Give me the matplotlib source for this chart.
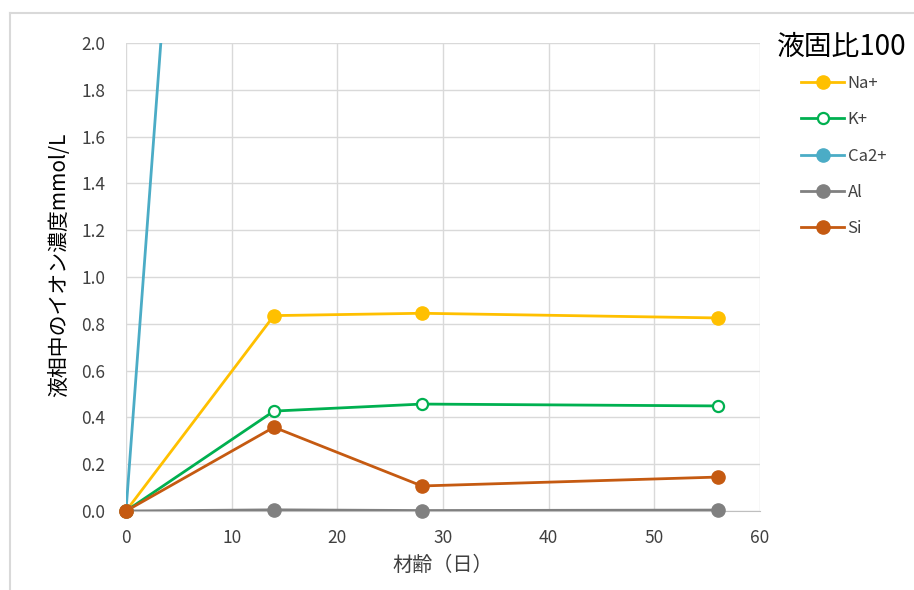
import matplotlib
matplotlib.use("Agg")
import matplotlib.pyplot as plt
from matplotlib.lines import Line2D

plt.rcParams['font.family'] = ['Noto Sans CJK JP', 'DejaVu Sans']

days = [0, 14, 28, 56]
na = [0.0, 0.835, 0.845, 0.825]
k = [0.0, 0.427, 0.457, 0.449]
ca = [0.0, 8.5, 9.3, 9.8]
al = [0.0, 0.005, 0.002, 0.004]
si = [0.0, 0.358, 0.107, 0.145]
series_names = ["Na+", "K+", "Ca2+", "Al", "Si"]
colors = ["#FFC000", "#00B050", "#4BACC6", "#808080", "#C55A11"]
legend_title = "液固比100"
xlabel = "材齢（日）"
ylabel = "液相中のイオン濃度mmol/L"

W, H = 914, 590
fig = plt.figure(figsize=(W / 100, H / 100), dpi=100)
ax = fig.add_axes([126 / W, 1 - 511 / H, (760 - 126) / W, (511 - 43) / H])

data = [na, k, ca, al, si]


def style(name, c):
    hollow = name == "K+"
    return dict(color=c, lw=2.0, marker="o", markersize=8 if hollow else 9.5,
                markerfacecolor="white" if hollow else c, markeredgecolor=c,
                markeredgewidth=1.6 if hollow else 1.0)


for name, vals, c in zip(series_names, data, colors):
    st = style(name, c)
    ax.plot(days, vals, color=c, lw=st["lw"], zorder=3, clip_on=True)
    ax.plot(days, vals, linestyle="none", marker="o", markersize=st["markersize"],
            markerfacecolor=st["markerfacecolor"], markeredgecolor=c,
            markeredgewidth=st["markeredgewidth"], zorder=4,
            clip_on=(name == "Ca2+"))

ax.set_xlim(0, 60)
ax.set_ylim(0, 2.0)
ax.set_xticks(range(0, 61, 10))
ax.set_yticks([i / 10 for i in range(0, 21, 2)])
ax.set_yticklabels([f"{i / 10:.1f}" for i in range(0, 21, 2)])
ax.grid(True, color="#d9d9d9", lw=1.0)
ax.set_axisbelow(True)
for s in ["top", "right", "left"]:
    ax.spines[s].set_visible(False)
ax.spines["bottom"].set_color("#bfbfbf")
ax.tick_params(length=0, labelsize=12.5, labelcolor="#404040")
ax.tick_params(axis="y", pad=15)
ax.tick_params(axis="x", pad=13)
ax.set_xlabel(xlabel, fontsize=14.5, color="#404040", labelpad=6)
ax.set_ylabel(ylabel, fontsize=15, color="#000000", labelpad=6)
ax.yaxis.set_label_coords(-0.088, 0.526)

# legend title and entries
fig.text(777 / W, 1 - 47 / H, legend_title, fontsize=20, va="center", ha="left", color="#000000")
handles = [Line2D([0], [0], **style(n, c)) for n, c in zip(series_names, colors)]
leg = fig.legend(handles, series_names, loc="upper left", bbox_to_anchor=(786 / W, 1 - 60 / H),
                 frameon=False, fontsize=12,
                 handlelength=2.6, labelspacing=1.16, handletextpad=0.2)
for t in leg.get_texts():
    t.set_color("#404040")

# outer chart border (left and top)
fig.add_artist(Line2D([10 / W, 10 / W], [0, 1 - 13 / H], color="#d9d9d9", lw=1.5, transform=fig.transFigure))
fig.add_artist(Line2D([10 / W, 1], [1 - 13 / H, 1 - 13 / H], color="#d9d9d9", lw=1.5, transform=fig.transFigure))

fig.savefig("out.png", dpi=100)
